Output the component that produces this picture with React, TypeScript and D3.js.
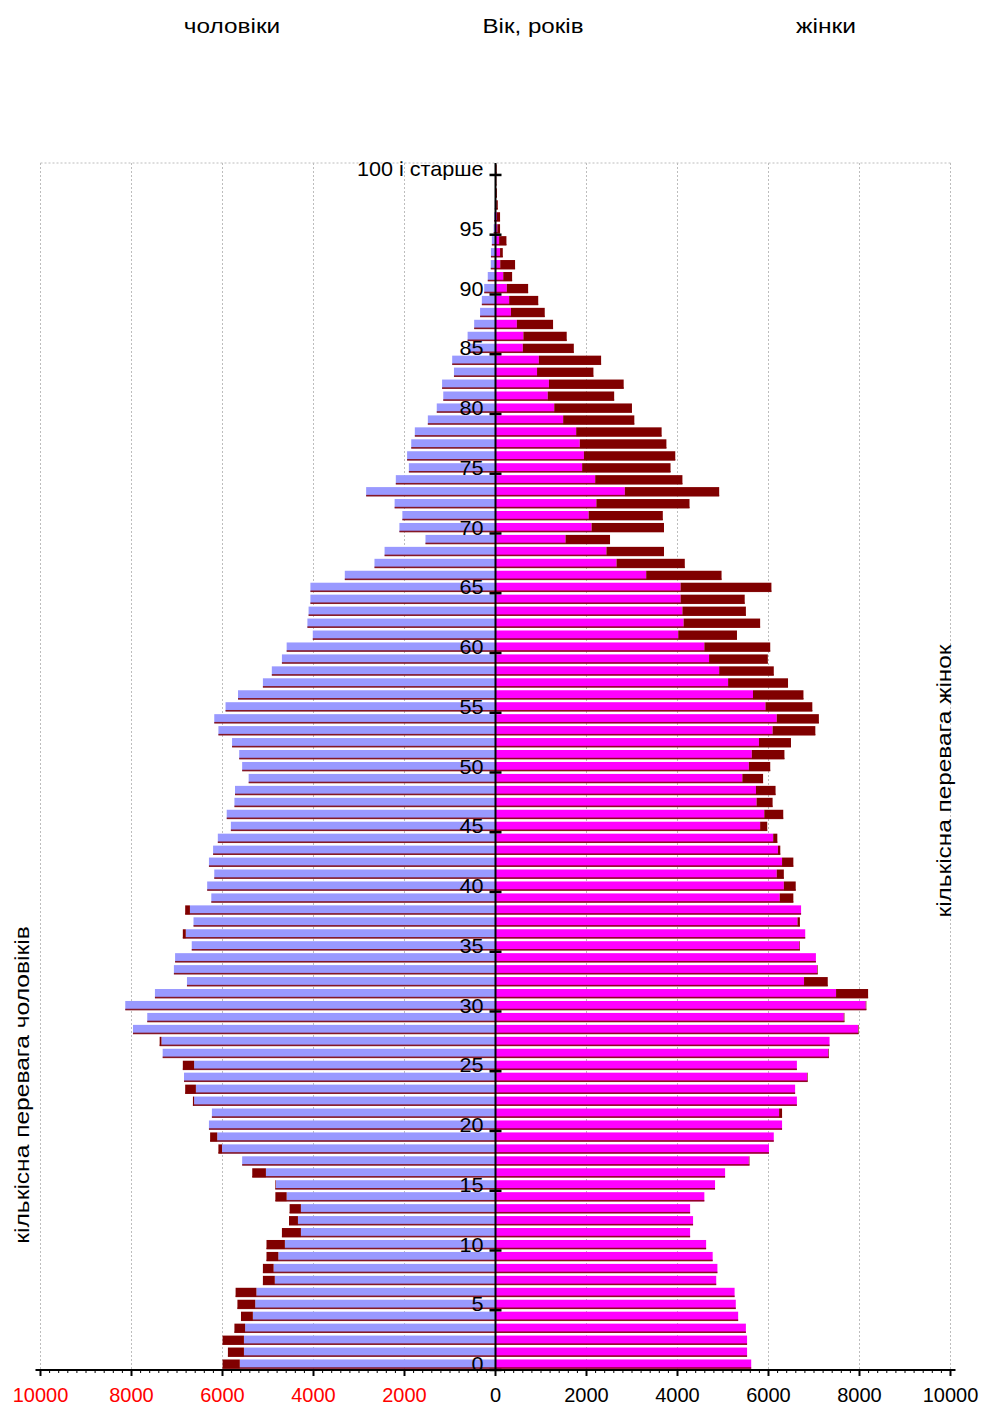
import React from "react";
import * as d3 from "d3";

const ages: number[] = d3.range(0, 101);
const men: number[] = [
  5998, 5881, 5998, 5738, 5594, 5672, 5712, 5112, 5112, 5033,
  5033, 4694, 4538, 4525, 4838, 4838, 5346, 5568, 6090, 6272,
  6298, 6233, 6650, 6820, 6846, 6872, 7315, 7381, 7967, 7654,
  8137, 7485, 6781, 7068, 7042, 6676, 6872, 6637, 6820, 6246,
  6337, 6181, 6298, 6207, 6103, 5816, 5907, 5738, 5725, 5425,
  5568, 5633, 5790, 6090, 6181, 5933, 5659, 5112, 4916, 4694,
  4590, 4016, 4134, 4108, 4068, 4068, 3312, 2660, 2438, 1539,
  2112, 2047, 2217, 2843, 2191, 1904, 1943, 1852, 1773, 1487,
  1291, 1148, 1174, 913, 952, 600, 613, 469, 339, 300,
  248, 170, 104, 100, 80, 40, 30, 15, 10, 5,
  8,
];
const women: number[] = [
  5620, 5529, 5529, 5503, 5333, 5281, 5255, 4851, 4877, 4773,
  4629, 4277, 4342, 4277, 4590, 4825, 5046, 5581, 6011, 6116,
  6298, 6298, 6624, 6585, 6859, 6624, 7328, 7342, 7980, 7668,
  8150, 8189, 7302, 7081, 7042, 6690, 6807, 6690, 6716, 6546,
  6598, 6337, 6546, 6259, 6194, 5972, 6324, 6090, 6155, 5881,
  6038, 6350, 6494, 7029, 7107, 6963, 6768, 6429, 6116, 5985,
  6038, 5307, 5816, 5503, 5477, 6064, 4968, 4160, 3703, 2517,
  3703, 3677, 4264, 4916, 4108, 3847, 3951, 3756, 3651, 3051,
  2999, 2608, 2817, 2152, 2321, 1721, 1565, 1265, 1082, 939,
  717, 365, 430, 160, 240, 100, 100, 50, 30, 20,
  25,
];
const xTicks: number[] = [-10000, -8000, -6000, -4000, -2000, 0, 2000, 4000, 6000, 8000, 10000];
const ageLabelTicks: number[] = [0, 5, 10, 15, 20, 25, 30, 35, 40, 45, 50, 55, 60, 65, 70, 75, 80, 85, 90, 95, 100];
const titleMen = "чоловіки";
const titleAge = "Вік, років";
const titleWomen = "жінки";
const sideMen = "кількісна перевага чоловіків";
const sideWomen = "кількісна перевага жінок";

const W = 983;
const H = 1407;
const plotLeft = 40.5;
const plotRight = 950.5;
const plotTop = 163;
const plotBottom = 1370;

const LAV = "#9999ff";
const MAG = "#ff00ff";
const DRED = "#800000";
const FONT = "'Liberation Sans', Arial, sans-serif";

export default function App() {
  const x = d3.scaleLinear().domain([-10000, 10000]).range([plotLeft, plotRight]);
  const y = d3
    .scaleBand<number>()
    .domain(ages)
    .range([plotBottom, plotTop])
    .paddingInner(0.24)
    .paddingOuter(0.12);
  const step = (plotBottom - plotTop) / ages.length;
  const boundary = (a: number) => plotBottom - a * step;
  const x0 = x(0);
  const minor = d3.range(-10000, 10001, 200);

  return (
    <svg
      width={W}
      height={H}
      viewBox={`0 0 ${W} ${H}`}
      style={{ position: "absolute", left: 0, top: 0, background: "#fff" }}
      fontFamily={FONT}
    >
      {/* titles */}
      <text transform="translate(232,33) scale(1.16,1)" fontSize={21} textAnchor="middle" fill="#000">{titleMen}</text>
      <text transform="translate(533,33) scale(1.15,1)" fontSize={21} textAnchor="middle" fill="#000">{titleAge}</text>
      <text transform="translate(826,33) scale(1.17,1)" fontSize={21} textAnchor="middle" fill="#000">{titleWomen}</text>

      {/* gridlines */}
      {xTicks.map((t) => (
        <line
          key={"g" + t}
          x1={x(t)}
          x2={x(t)}
          y1={plotTop}
          y2={plotBottom}
          stroke="#bdbdbd"
          strokeWidth={1}
          strokeDasharray="2,2"
        />
      ))}
      <line x1={plotLeft} x2={plotRight} y1={plotTop} y2={plotTop} stroke="#bdbdbd" strokeDasharray="2,2" />

      {/* bars */}
      {ages.map((a, i) => {
        const m = men[i];
        const w = women[i];
        const common = Math.min(m, w);
        const top = y(a) as number;
        const bh = y.bandwidth();
        return (
          <g key={"b" + a}>
            <rect x={x(-common)} y={top} width={x0 - x(-common)} height={bh} fill={LAV} />
            {m > w && (
              <rect x={x(-m)} y={top} width={x(-common) - x(-m)} height={bh} fill={DRED} />
            )}
            <rect x={x(-m)} y={top + bh - 1.3} width={x0 - x(-m)} height={1.6} fill={DRED} opacity={0.85} />
            <rect x={x0} y={top} width={x(common) - x0} height={bh} fill={MAG} />
            {w > m && (
              <rect x={x(common)} y={top} width={x(w) - x(common)} height={bh} fill={DRED} />
            )}
            <rect x={x0} y={top + bh - 1.3} width={x(w) - x0} height={1.6} fill={DRED} opacity={0.85} />
          </g>
        );
      })}

      {/* vertical (age) axis */}
      <line x1={x0} x2={x0} y1={plotTop} y2={plotBottom} stroke="#000" strokeWidth={2} />
      {ageLabelTicks.map((a) => (
        <g key={"t" + a}>
          <line x1={x0 - 6} x2={x0 + 6} y1={boundary(a)} y2={boundary(a)} stroke="#000" strokeWidth={2.5} />
          <text
            transform={`translate(${x0 - 12},${(y(a) as number) + y.bandwidth() / 2}) scale(1.08,1)`}
            fontSize={20}
            textAnchor="end"
            dominantBaseline="central"
            fill="#000"
          >
            {a === 100 ? "100 і старше" : String(a)}
          </text>
        </g>
      ))}

      {/* horizontal axis */}
      <line x1={plotLeft - 5} x2={plotRight + 5} y1={plotBottom} y2={plotBottom} stroke="#000" strokeWidth={2} />
      {minor.map((t) => (
        <line key={"m" + t} x1={x(t)} x2={x(t)} y1={plotBottom} y2={plotBottom + 3} stroke="#000" strokeWidth={1} />
      ))}
      {xTicks.map((t) => (
        <g key={"x" + t}>
          <line x1={x(t)} x2={x(t)} y1={plotBottom} y2={plotBottom + 6} stroke="#000" strokeWidth={2} />
          <text
            x={x(t)}
            y={1402}
            fontSize={20}
            textAnchor="middle"
            fill={t < 0 ? "#ff0000" : "#000"}
          >
            {Math.abs(t)}
          </text>
        </g>
      ))}

      {/* side labels */}
      <text
        transform={`translate(29,1085) rotate(-90) scale(1.17,1)`}
        fontSize={21}
        textAnchor="middle"
        fill="#000"
      >
        {sideMen}
      </text>
      <text
        transform={`translate(951,781) rotate(-90) scale(1.16,1)`}
        fontSize={21}
        textAnchor="middle"
        fill="#000"
      >
        {sideWomen}
      </text>
    </svg>
  );
}
